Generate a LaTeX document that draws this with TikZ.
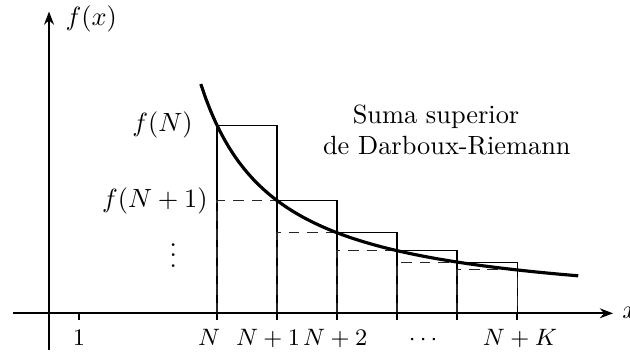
\documentclass[tikz,border=0pt]{standalone}
\usepackage{amsmath,amssymb}
\usepackage{tikz}
\usetikzlibrary{arrows.meta}

\begin{document}
\begin{tikzpicture}[
    x=0.8cm, y=0.8cm,
    declare function={fdec(\t)=4.7/(\t-1.3);},
    axis/.style={-{Stealth[length=5pt]}, thick},
    tick/.style={thick},
    upper/.style={thin},
    lower/.style={thin, black!85, dash pattern=on 4pt off 3pt},
    curve/.style={very thick},
    ticklab/.style={anchor=base, font=\small},
]
    \useasboundingbox (-0.817,-0.662) rectangle (9.683,5.222);

    % rectangles
    \foreach \k in {0,...,4} {
        \draw[upper] (2.8+\k,0) rectangle (3.8+\k,{fdec(2.8+\k)});
        \draw[lower] (2.8+\k,0) rectangle (3.8+\k,{fdec(3.8+\k)});
    }

    \draw[curve] plot[domain=2.53:8.82, samples=80] (\x,{fdec(\x)});

    % axes
    \coordinate (xstart) at (-0.6,0);
    \coordinate (xend) at (9.4,0);
    \coordinate (ystart) at (0,-0.61);
    \coordinate (yend) at (0,5.03);
    \draw[axis] (xstart) -- (xend);
    \draw[axis] (ystart) -- (yend);
    \node[right] (xlab) at (xend) {$x$};
    \node[right] (fxlab) at (0.12,4.9) {$f(x)$};

    \foreach \t in {0.5,2.8,3.8,...,7.8} \draw[tick] (\t,0) -- (\t,-0.11);
    \foreach \t/\lab/\name in {0.5/1/one, 2.67/N/n0, 3.65/N+1/n1, 4.77/N+2/n2, 6.27/\cdots/dots, 7.85/N+K/nk}
        \node[ticklab] (lab\name) at (\t,-0.53) {$\lab$};

    \node[left] (fN) at (2.55,{fdec(2.8)}) {$f(N)$};
    \node[left] (fN1) at (2.8,{fdec(3.8)}) {$f(N+1)$};
    \node[anchor=base] (vdots) at (2.07,0.77) {$\vdots$};

    \node[anchor=base] (title1) at (6.45,3.17) {Suma superior};
    \node[anchor=base] (title2) at (6.63,2.64) {de Darboux-Riemann};
\end{tikzpicture}
\end{document}
